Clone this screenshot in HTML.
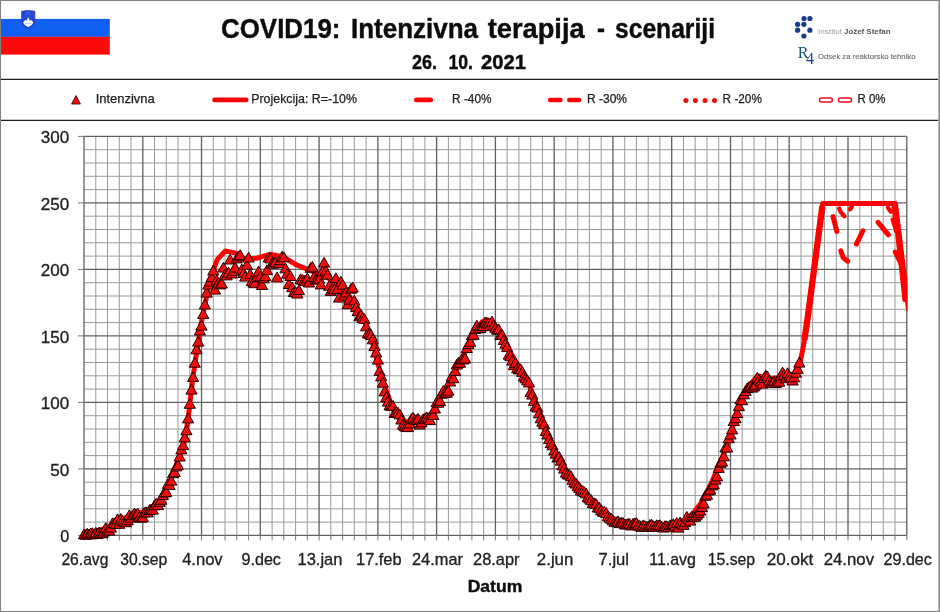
<!DOCTYPE html>
<html lang="sl"><head><meta charset="utf-8"><title>COVID19: Intenzivna terapija - scenariji</title>
<style>
html,body{margin:0;padding:0;background:#fff}
body{width:940px;height:612px;overflow:hidden;position:relative;font-family:"Liberation Sans",sans-serif}
svg{position:absolute;left:0;top:0;display:block}
text{font-family:"Liberation Sans",sans-serif}
</style></head><body>
<svg width="940" height="612" viewBox="0 0 940 612">
<defs><clipPath id="pc"><rect x="80" y="130" width="827.5" height="410"/></clipPath></defs>
<rect x="0" y="0" width="940" height="612" fill="#fff"/>
<!-- frame -->
<path d="M0.5 0V612M0 0.5H940M0 611.5H940" stroke="#808080" stroke-width="1" fill="none"/><path d="M939.2 0V612" stroke="#8a8a8a" stroke-width="1.6" fill="none"/>
<path d="M1 79.4H938M1 120.4H938" stroke="#1e1e1e" stroke-width="1.2" fill="none"/>
<!-- flag -->
<rect x="1" y="18.9" width="108.8" height="18" fill="#115ff0"/>
<rect x="1" y="36.8" width="108.8" height="17.8" fill="#ff0a0a"/>
<path d="M21.7 11.3Q28.2 9.9 34.8 11.3V21Q34.8 25.5 28.2 27.9Q21.7 25.5 21.7 21Z" fill="#2347d8" stroke="#2a33a6" stroke-width=".8"/>
<g fill="#6aa8ff"><circle cx="26.5" cy="13.9" r=".65"/><circle cx="29.9" cy="13.9" r=".65"/><circle cx="28.2" cy="12.2" r=".65"/></g>
<path d="M23.2 22.3L25.4 19.8L26.5 20.8L28.2 17.1L29.9 20.8L31 19.8L33.3 22.3Q32.4 25.3 28.2 26.9Q24 25.3 23.2 22.3Z" fill="#fff"/>
<path d="M25 23.6q.8-.6 1.6 0t1.6 0 1.6 0 1.6 0" stroke="#7fb0f5" stroke-width=".7" fill="none"/>
<!-- logos -->
<g fill="#163a8c"><circle cx="804" cy="18.5" r="2.6"/><circle cx="809.9" cy="18.5" r="2.6"/><circle cx="797.6" cy="24.3" r="2.6"/><circle cx="803.9" cy="24.3" r="2.6"/><circle cx="797.6" cy="30.2" r="2.6"/><circle cx="809.9" cy="30.2" r="2.6"/><circle cx="803.9" cy="36" r="2.6"/></g>
<text x="818" y="33.6" font-size="7" fill="#9c9c9c" textLength="24" lengthAdjust="spacingAndGlyphs">Institut</text>
<text x="844" y="33.6" font-size="7" font-weight="bold" fill="#555" textLength="46.5" lengthAdjust="spacingAndGlyphs">Jožef Stefan</text>
<text x="797.8" y="57.8" font-size="16.4" fill="#14506e" style="font-family:'Liberation Serif',serif" textLength="10.8" lengthAdjust="spacingAndGlyphs">R</text>
<text x="806" y="64.4" font-size="17" fill="#1f3fa8" style="font-family:'Liberation Serif',serif" textLength="8" lengthAdjust="spacingAndGlyphs">4</text>
<text x="818" y="58.6" font-size="7.7" fill="#707070" stroke="#707070" stroke-width="0.15" textLength="97.5" lengthAdjust="spacingAndGlyphs">Odsek za reaktorsko tehniko</text>
<!-- titles -->
<g font-weight="bold" fill="#0c0c0c" stroke="#0c0c0c" stroke-width="0.4">
<g font-size="26.9">
<text x="221" y="38.2" textLength="119.5" lengthAdjust="spacingAndGlyphs">COVID19:</text>
<text x="351" y="38.2" textLength="127" lengthAdjust="spacingAndGlyphs">Intenzivna</text>
<text x="487.7" y="38.2" textLength="97" lengthAdjust="spacingAndGlyphs">terapija</text>
<text x="597" y="38.2" textLength="8" lengthAdjust="spacingAndGlyphs">-</text>
<text x="615" y="38.2" textLength="100" lengthAdjust="spacingAndGlyphs">scenariji</text>
</g>
<g font-size="19.9">
<text x="411.9" y="69.1" textLength="25" lengthAdjust="spacingAndGlyphs">26.</text>
<text x="448.4" y="69.1" textLength="24.6" lengthAdjust="spacingAndGlyphs">10.</text>
<text x="481" y="69.1" textLength="45" lengthAdjust="spacingAndGlyphs">2021</text>
</g>
<text x="467.7" y="592.2" font-size="17.3" textLength="54.6" lengthAdjust="spacingAndGlyphs">Datum</text>
</g>
<!-- legend -->
<path d="M76 95.6l4.4 8.4h-8.8z" fill="#e60d0d" stroke="#4a0000" stroke-width="0.9"/>
<path d="M214.5 99.9H246.3" stroke="#f00" stroke-width="4.6" stroke-linecap="round"/>
<path d="M416.3 99.9H430.8" stroke="#f00" stroke-width="4.6" stroke-linecap="round"/>
<path d="M550.2 99.9H560.4M569.3 99.9H579.2" stroke="#f00" stroke-width="4.5" stroke-linecap="round"/>
<g fill="#f20a0a"><circle cx="685.9" cy="100.4" r="2.5"/><circle cx="695.4" cy="100.4" r="2.5"/><circle cx="705" cy="100.4" r="2.5"/><circle cx="714.5" cy="100.4" r="2.5"/></g>
<g fill="#fff" stroke="#e30f1c" stroke-width="1.5"><rect x="819.5" y="98.1" width="12.8" height="4" rx="2"/><rect x="838.5" y="98.1" width="13" height="4" rx="2"/></g>
<g font-size="12.35" fill="#1c1c1c" stroke="#1c1c1c" stroke-width="0.25">
<text x="95.7" y="103" textLength="59" lengthAdjust="spacingAndGlyphs">Intenzivna</text>
<text x="251.2" y="103" textLength="105.8" lengthAdjust="spacingAndGlyphs">Projekcija: R=-10%</text>
<text x="452.1" y="103" textLength="39.4" lengthAdjust="spacingAndGlyphs">R -40%</text>
<text x="587" y="103" textLength="40" lengthAdjust="spacingAndGlyphs">R -30%</text>
<text x="722.6" y="103" textLength="39.3" lengthAdjust="spacingAndGlyphs">R -20%</text>
<text x="857.5" y="103" textLength="28" lengthAdjust="spacingAndGlyphs">R 0%</text>
</g>
<!-- chart -->
<path d="M95.8 136.4V535.4M107.5 136.4V535.4M119.3 136.4V535.4M131 136.4V535.4M154.5 136.4V535.4M166.3 136.4V535.4M178 136.4V535.4M189.8 136.4V535.4M213.3 136.4V535.4M225 136.4V535.4M236.8 136.4V535.4M248.6 136.4V535.4M272.1 136.4V535.4M283.8 136.4V535.4M295.6 136.4V535.4M307.3 136.4V535.4M330.8 136.4V535.4M342.6 136.4V535.4M354.3 136.4V535.4M366.1 136.4V535.4M389.6 136.4V535.4M401.4 136.4V535.4M413.1 136.4V535.4M424.9 136.4V535.4M448.4 136.4V535.4M460.1 136.4V535.4M471.9 136.4V535.4M483.6 136.4V535.4M507.1 136.4V535.4M518.9 136.4V535.4M530.7 136.4V535.4M542.4 136.4V535.4M565.9 136.4V535.4M577.7 136.4V535.4M589.4 136.4V535.4M601.2 136.4V535.4M624.7 136.4V535.4M636.4 136.4V535.4M648.2 136.4V535.4M659.9 136.4V535.4M683.5 136.4V535.4M695.2 136.4V535.4M707 136.4V535.4M718.7 136.4V535.4M742.2 136.4V535.4M754 136.4V535.4M765.7 136.4V535.4M777.5 136.4V535.4M801 136.4V535.4M812.7 136.4V535.4M824.5 136.4V535.4M836.3 136.4V535.4M859.8 136.4V535.4M871.5 136.4V535.4M883.3 136.4V535.4M895 136.4V535.4M84 522.1H906.8M84 508.8H906.8M84 495.5H906.8M84 482.2H906.8M84 455.6H906.8M84 442.3H906.8M84 429H906.8M84 415.7H906.8M84 389.1H906.8M84 375.8H906.8M84 362.5H906.8M84 349.2H906.8M84 322.6H906.8M84 309.3H906.8M84 296H906.8M84 282.7H906.8M84 256.1H906.8M84 242.8H906.8M84 229.5H906.8M84 216.2H906.8M84 189.6H906.8M84 176.3H906.8M84 163H906.8M84 149.7H906.8" stroke="#999" stroke-width="1" fill="none"/>
<path d="M84 136.4V535.4M142.8 136.4V535.4M201.5 136.4V535.4M260.3 136.4V535.4M319.1 136.4V535.4M377.9 136.4V535.4M436.6 136.4V535.4M495.4 136.4V535.4M554.2 136.4V535.4M612.9 136.4V535.4M671.7 136.4V535.4M730.5 136.4V535.4M789.2 136.4V535.4M848 136.4V535.4M906.8 136.4V535.4M84 535.4H906.8M84 468.9H906.8M84 402.4H906.8M84 335.9H906.8M84 269.4H906.8M84 202.9H906.8M84 136.4H906.8" stroke="#606060" stroke-width="1.3" fill="none"/>
<path d="M95.8 535.4V540.4M107.5 535.4V540.4M119.3 535.4V540.4M131 535.4V540.4M154.5 535.4V540.4M166.3 535.4V540.4M178 535.4V540.4M189.8 535.4V540.4M213.3 535.4V540.4M225 535.4V540.4M236.8 535.4V540.4M248.6 535.4V540.4M272.1 535.4V540.4M283.8 535.4V540.4M295.6 535.4V540.4M307.3 535.4V540.4M330.8 535.4V540.4M342.6 535.4V540.4M354.3 535.4V540.4M366.1 535.4V540.4M389.6 535.4V540.4M401.4 535.4V540.4M413.1 535.4V540.4M424.9 535.4V540.4M448.4 535.4V540.4M460.1 535.4V540.4M471.9 535.4V540.4M483.6 535.4V540.4M507.1 535.4V540.4M518.9 535.4V540.4M530.7 535.4V540.4M542.4 535.4V540.4M565.9 535.4V540.4M577.7 535.4V540.4M589.4 535.4V540.4M601.2 535.4V540.4M624.7 535.4V540.4M636.4 535.4V540.4M648.2 535.4V540.4M659.9 535.4V540.4M683.5 535.4V540.4M695.2 535.4V540.4M707 535.4V540.4M718.7 535.4V540.4M742.2 535.4V540.4M754 535.4V540.4M765.7 535.4V540.4M777.5 535.4V540.4M801 535.4V540.4M812.7 535.4V540.4M824.5 535.4V540.4M836.3 535.4V540.4M859.8 535.4V540.4M871.5 535.4V540.4M883.3 535.4V540.4M895 535.4V540.4M84 535.4V540.4M142.8 535.4V540.4M201.5 535.4V540.4M260.3 535.4V540.4M319.1 535.4V540.4M377.9 535.4V540.4M436.6 535.4V540.4M495.4 535.4V540.4M554.2 535.4V540.4M612.9 535.4V540.4M671.7 535.4V540.4M730.5 535.4V540.4M789.2 535.4V540.4M848 535.4V540.4M906.8 535.4V540.4M78 535.4H84M78 468.9H84M78 402.4H84M78 335.9H84M78 269.4H84M78 202.9H84M78 136.4H84" stroke="#7a7a7a" stroke-width="1" fill="none"/>
<path d="M84 533.6 L97 531 L110.4 527 L120 521 L128 516 L136 513.5 L142.8 512 L150 509 L156.3 505.3 L164.3 496 L171 479.7 L177.8 460.9 L184.5 442 L188 420 L190.5 398 L193 377 L195.6 359.4 L201 324.3 L206.4 297.4 L210.4 278.5 L217.2 259.6 L225.3 251 L234.7 252.9 L245.5 259.1 L256.3 258.3 L269.7 254.3 L283.2 257 L296.7 265 L310.2 270.4 L321 274.5 L334.4 281.2 L345.2 290.6 L356 305.5 L364.7 321 L372.8 343.5 L380.2 372 L387.6 394.7 L395 414 L403.1 422 L413.9 420.7 L424.7 422 L432.8 414 L440.9 397.8 L451.6 379 L459.7 362.8 L467.8 346.6 L475.9 330.4 L482 322 L486.7 319.6 L491 321 L494.8 325 L505.6 343.9 L516.3 362.8 L527.1 379 L535.3 400.8 L543.4 426.4 L554.3 450 L565 471.3 L578.5 484.7 L589.3 498.2 L600.1 509 L613.6 519.8 L632.4 523.8 L651.3 525.2 L670.2 525.2 L683.6 522.5 L694.4 511.7 L702.5 500.9 L710.6 484.7 L718.7 465.9 L725.4 449.7 L732.2 428.1 L738.9 406.6 L749.4 385.4 L757.6 375.6 L770 379 L785 376.4 L793.6 374 L800.1 362.5 L803.6 345 L807.4 319 L822.7 203.5 L895.4 203.5 L908.4 309" stroke="#ff0000" stroke-width="5" fill="none" stroke-linejoin="round" stroke-linecap="round" clip-path="url(#pc)"/>
<path d="M833 216.6L836.9 231.5M840.8 250.9L843.3 257.8L847.7 261.2M856.4 244.1L862.8 230.8M878.1 222.3L888.4 234.9M895.3 252.1L902.1 265.8" stroke="#f00" stroke-width="5" fill="none" stroke-linecap="round" stroke-linejoin="round" clip-path="url(#pc)"/>
<path d="M839.2 208.6L840.8 212M842.2 213.9L844.5 216.2M850 209.3L851.8 207M887.9 207.5L890.7 211.6M892.7 219.5L896.5 231.5" stroke="#f00" stroke-width="4.4" fill="none" stroke-linecap="round" clip-path="url(#pc)"/>
<path d="M893.5 207L897 232L900 258L904.5 300" stroke="#f00" stroke-width="4.2" fill="none" stroke-linecap="round" stroke-linejoin="round" clip-path="url(#pc)"/>
<path d="M804.4 340L807.6 318.5L822.4 206" stroke="#f00" stroke-width="6.3" fill="none" stroke-linejoin="round"/>
<g fill="#f20d0d" stroke="#2a0000" stroke-width="1" stroke-linejoin="miter"><path d="M84 529.1l5.6 9.8h-11.2z"/><path d="M85.7 529.4l5.6 9.8h-11.2z"/><path d="M87.4 528.2l5.6 9.8h-11.2z"/><path d="M89 529.1l5.6 9.8h-11.2z"/><path d="M90.7 528l5.6 9.8h-11.2z"/><path d="M92.4 527.8l5.6 9.8h-11.2z"/><path d="M94.1 528.8l5.6 9.8h-11.2z"/><path d="M95.8 527.4l5.6 9.8h-11.2z"/><path d="M97.4 528.6l5.6 9.8h-11.2z"/><path d="M99.1 527.1l5.6 9.8h-11.2z"/><path d="M100.8 527.9l5.6 9.8h-11.2z"/><path d="M102.5 527.8l5.6 9.8h-11.2z"/><path d="M104.1 526.2l5.6 9.8h-11.2z"/><path d="M105.8 522.6l5.6 9.8h-11.2z"/><path d="M107.5 524.9l5.6 9.8h-11.2z"/><path d="M109.2 525.2l5.6 9.8h-11.2z"/><path d="M110.9 522.3l5.6 9.8h-11.2z"/><path d="M112.5 517.9l5.6 9.8h-11.2z"/><path d="M114.2 517.8l5.6 9.8h-11.2z"/><path d="M115.9 518.6l5.6 9.8h-11.2z"/><path d="M117.6 513.9l5.6 9.8h-11.2z"/><path d="M119.3 518.5l5.6 9.8h-11.2z"/><path d="M120.9 513.6l5.6 9.8h-11.2z"/><path d="M122.6 515.3l5.6 9.8h-11.2z"/><path d="M124.3 516.7l5.6 9.8h-11.2z"/><path d="M126 516.9l5.6 9.8h-11.2z"/><path d="M127.7 514.9l5.6 9.8h-11.2z"/><path d="M129.3 509.9l5.6 9.8h-11.2z"/><path d="M131 512.4l5.6 9.8h-11.2z"/><path d="M132.7 510l5.6 9.8h-11.2z"/><path d="M134.4 508.2l5.6 9.8h-11.2z"/><path d="M136.1 509.3l5.6 9.8h-11.2z"/><path d="M137.7 508.2l5.6 9.8h-11.2z"/><path d="M139.4 511.4l5.6 9.8h-11.2z"/><path d="M141.1 512.5l5.6 9.8h-11.2z"/><path d="M142.8 511.8l5.6 9.8h-11.2z"/><path d="M144.4 507.2l5.6 9.8h-11.2z"/><path d="M146.1 506.7l5.6 9.8h-11.2z"/><path d="M147.8 507l5.6 9.8h-11.2z"/><path d="M149.5 504.6l5.6 9.8h-11.2z"/><path d="M151.2 504l5.6 9.8h-11.2z"/><path d="M152.8 504.3l5.6 9.8h-11.2z"/><path d="M154.5 500l5.6 9.8h-11.2z"/><path d="M156.2 498.3l5.6 9.8h-11.2z"/><path d="M157.9 499.7l5.6 9.8h-11.2z"/><path d="M159.6 496.6l5.6 9.8h-11.2z"/><path d="M161.2 494.5l5.6 9.8h-11.2z"/><path d="M162.9 489.7l5.6 9.8h-11.2z"/><path d="M164.6 487.2l5.6 9.8h-11.2z"/><path d="M166.3 486.6l5.6 9.8h-11.2z"/><path d="M168 478.6l5.6 9.8h-11.2z"/><path d="M169.6 479.6l5.6 9.8h-11.2z"/><path d="M171.3 475.3l5.6 9.8h-11.2z"/><path d="M173 467.9l5.6 9.8h-11.2z"/><path d="M174.7 466.8l5.6 9.8h-11.2z"/><path d="M176.4 461.1l5.6 9.8h-11.2z"/><path d="M178 459.6l5.6 9.8h-11.2z"/><path d="M179.7 451.2l5.6 9.8h-11.2z"/><path d="M181.4 444.1l5.6 9.8h-11.2z"/><path d="M183.1 439.8l5.6 9.8h-11.2z"/><path d="M184.7 432l5.6 9.8h-11.2z"/><path d="M186.4 424.9l5.6 9.8h-11.2z"/><path d="M188.1 413.1l5.6 9.8h-11.2z"/><path d="M189.8 398.5l5.6 9.8h-11.2z"/><path d="M191.5 384.3l5.6 9.8h-11.2z"/><path d="M193.1 371.6l5.6 9.8h-11.2z"/><path d="M194.8 357.4l5.6 9.8h-11.2z"/><path d="M196.5 344l5.6 9.8h-11.2z"/><path d="M198.2 336.3l5.6 9.8h-11.2z"/><path d="M199.9 325.1l5.6 9.8h-11.2z"/><path d="M201.5 320.3l5.6 9.8h-11.2z"/><path d="M203.2 308.6l5.6 9.8h-11.2z"/><path d="M204.9 299.2l5.6 9.8h-11.2z"/><path d="M206.6 287.3l5.6 9.8h-11.2z"/><path d="M208.3 279.3l5.6 9.8h-11.2z"/><path d="M209.9 276.2l5.6 9.8h-11.2z"/><path d="M211.6 271.8l5.6 9.8h-11.2z"/><path d="M213.3 265.2l5.6 9.8h-11.2z"/><path d="M215 284.3l5.6 9.8h-11.2z"/><path d="M216.7 274.9l5.6 9.8h-11.2z"/><path d="M218.3 277.3l5.6 9.8h-11.2z"/><path d="M220 279.1l5.6 9.8h-11.2z"/><path d="M221.7 278.2l5.6 9.8h-11.2z"/><path d="M223.4 262.3l5.6 9.8h-11.2z"/><path d="M225 269.1l5.6 9.8h-11.2z"/><path d="M226.7 270.1l5.6 9.8h-11.2z"/><path d="M228.4 267.2l5.6 9.8h-11.2z"/><path d="M230.1 254.2l5.6 9.8h-11.2z"/><path d="M231.8 268.2l5.6 9.8h-11.2z"/><path d="M233.4 265.5l5.6 9.8h-11.2z"/><path d="M235.1 262.2l5.6 9.8h-11.2z"/><path d="M236.8 253.1l5.6 9.8h-11.2z"/><path d="M238.5 251.1l5.6 9.8h-11.2z"/><path d="M240.2 249.7l5.6 9.8h-11.2z"/><path d="M241.8 264.1l5.6 9.8h-11.2z"/><path d="M243.5 267.7l5.6 9.8h-11.2z"/><path d="M245.2 271.3l5.6 9.8h-11.2z"/><path d="M246.9 259.5l5.6 9.8h-11.2z"/><path d="M248.6 252.2l5.6 9.8h-11.2z"/><path d="M250.2 268.9l5.6 9.8h-11.2z"/><path d="M251.9 275.7l5.6 9.8h-11.2z"/><path d="M253.6 277.3l5.6 9.8h-11.2z"/><path d="M255.3 277.9l5.6 9.8h-11.2z"/><path d="M257 271.7l5.6 9.8h-11.2z"/><path d="M258.6 266l5.6 9.8h-11.2z"/><path d="M260.3 271.2l5.6 9.8h-11.2z"/><path d="M262 279.7l5.6 9.8h-11.2z"/><path d="M263.7 273l5.6 9.8h-11.2z"/><path d="M265.3 270.9l5.6 9.8h-11.2z"/><path d="M267 264.8l5.6 9.8h-11.2z"/><path d="M268.7 252.1l5.6 9.8h-11.2z"/><path d="M270.4 253.1l5.6 9.8h-11.2z"/><path d="M272.1 258.2l5.6 9.8h-11.2z"/><path d="M273.7 258.2l5.6 9.8h-11.2z"/><path d="M275.4 256.9l5.6 9.8h-11.2z"/><path d="M277.1 272l5.6 9.8h-11.2z"/><path d="M278.8 257.9l5.6 9.8h-11.2z"/><path d="M280.5 254.8l5.6 9.8h-11.2z"/><path d="M282.1 251.2l5.6 9.8h-11.2z"/><path d="M283.8 251.9l5.6 9.8h-11.2z"/><path d="M285.5 263l5.6 9.8h-11.2z"/><path d="M287.2 268.4l5.6 9.8h-11.2z"/><path d="M288.9 278.7l5.6 9.8h-11.2z"/><path d="M290.5 270.7l5.6 9.8h-11.2z"/><path d="M292.2 281.9l5.6 9.8h-11.2z"/><path d="M293.9 286.7l5.6 9.8h-11.2z"/><path d="M295.6 286.8l5.6 9.8h-11.2z"/><path d="M297.3 288.2l5.6 9.8h-11.2z"/><path d="M298.9 284.7l5.6 9.8h-11.2z"/><path d="M300.6 273.8l5.6 9.8h-11.2z"/><path d="M302.3 274.5l5.6 9.8h-11.2z"/><path d="M304 275.1l5.6 9.8h-11.2z"/><path d="M305.6 275.8l5.6 9.8h-11.2z"/><path d="M307.3 273l5.6 9.8h-11.2z"/><path d="M309 277.2l5.6 9.8h-11.2z"/><path d="M310.7 262.5l5.6 9.8h-11.2z"/><path d="M312.4 261.5l5.6 9.8h-11.2z"/><path d="M314 271.7l5.6 9.8h-11.2z"/><path d="M315.7 274.4l5.6 9.8h-11.2z"/><path d="M317.4 273.8l5.6 9.8h-11.2z"/><path d="M319.1 273.5l5.6 9.8h-11.2z"/><path d="M320.8 279.1l5.6 9.8h-11.2z"/><path d="M322.4 266l5.6 9.8h-11.2z"/><path d="M324.1 257.3l5.6 9.8h-11.2z"/><path d="M325.8 265.6l5.6 9.8h-11.2z"/><path d="M327.5 269.4l5.6 9.8h-11.2z"/><path d="M329.2 280.5l5.6 9.8h-11.2z"/><path d="M330.8 285.6l5.6 9.8h-11.2z"/><path d="M332.5 283l5.6 9.8h-11.2z"/><path d="M334.2 284l5.6 9.8h-11.2z"/><path d="M335.9 272.8l5.6 9.8h-11.2z"/><path d="M337.6 283.6l5.6 9.8h-11.2z"/><path d="M339.2 292.3l5.6 9.8h-11.2z"/><path d="M340.9 276.3l5.6 9.8h-11.2z"/><path d="M342.6 279.3l5.6 9.8h-11.2z"/><path d="M344.3 290.1l5.6 9.8h-11.2z"/><path d="M345.9 287.2l5.6 9.8h-11.2z"/><path d="M347.6 298.9l5.6 9.8h-11.2z"/><path d="M349.3 294.3l5.6 9.8h-11.2z"/><path d="M351 283.4l5.6 9.8h-11.2z"/><path d="M352.7 282.3l5.6 9.8h-11.2z"/><path d="M354.3 295.2l5.6 9.8h-11.2z"/><path d="M356 301.8l5.6 9.8h-11.2z"/><path d="M357.7 305.8l5.6 9.8h-11.2z"/><path d="M359.4 311l5.6 9.8h-11.2z"/><path d="M361.1 309.6l5.6 9.8h-11.2z"/><path d="M362.7 312.7l5.6 9.8h-11.2z"/><path d="M364.4 313.6l5.6 9.8h-11.2z"/><path d="M366.1 321l5.6 9.8h-11.2z"/><path d="M367.8 328l5.6 9.8h-11.2z"/><path d="M369.5 328.5l5.6 9.8h-11.2z"/><path d="M371.1 329.7l5.6 9.8h-11.2z"/><path d="M372.8 334l5.6 9.8h-11.2z"/><path d="M374.5 340.7l5.6 9.8h-11.2z"/><path d="M376.2 347.2l5.6 9.8h-11.2z"/><path d="M377.9 354.3l5.6 9.8h-11.2z"/><path d="M379.5 365.7l5.6 9.8h-11.2z"/><path d="M381.2 371l5.6 9.8h-11.2z"/><path d="M382.9 377.4l5.6 9.8h-11.2z"/><path d="M384.6 386.1l5.6 9.8h-11.2z"/><path d="M386.2 391.9l5.6 9.8h-11.2z"/><path d="M387.9 396.3l5.6 9.8h-11.2z"/><path d="M389.6 400.1l5.6 9.8h-11.2z"/><path d="M391.3 400.4l5.6 9.8h-11.2z"/><path d="M393 400.6l5.6 9.8h-11.2z"/><path d="M394.6 407.6l5.6 9.8h-11.2z"/><path d="M396.3 406.7l5.6 9.8h-11.2z"/><path d="M398 407.3l5.6 9.8h-11.2z"/><path d="M399.7 409l5.6 9.8h-11.2z"/><path d="M401.4 414.2l5.6 9.8h-11.2z"/><path d="M403 419.4l5.6 9.8h-11.2z"/><path d="M404.7 420.9l5.6 9.8h-11.2z"/><path d="M406.4 421.6l5.6 9.8h-11.2z"/><path d="M408.1 421.8l5.6 9.8h-11.2z"/><path d="M409.8 418l5.6 9.8h-11.2z"/><path d="M411.4 413.7l5.6 9.8h-11.2z"/><path d="M413.1 412.2l5.6 9.8h-11.2z"/><path d="M414.8 414.8l5.6 9.8h-11.2z"/><path d="M416.5 414.7l5.6 9.8h-11.2z"/><path d="M418.1 413.4l5.6 9.8h-11.2z"/><path d="M419.8 419.3l5.6 9.8h-11.2z"/><path d="M421.5 417l5.6 9.8h-11.2z"/><path d="M423.2 413.8l5.6 9.8h-11.2z"/><path d="M424.9 413.4l5.6 9.8h-11.2z"/><path d="M426.5 411.9l5.6 9.8h-11.2z"/><path d="M428.2 412.7l5.6 9.8h-11.2z"/><path d="M429.9 414.8l5.6 9.8h-11.2z"/><path d="M431.6 409.4l5.6 9.8h-11.2z"/><path d="M433.3 409.7l5.6 9.8h-11.2z"/><path d="M434.9 403.2l5.6 9.8h-11.2z"/><path d="M436.6 396.9l5.6 9.8h-11.2z"/><path d="M438.3 397.4l5.6 9.8h-11.2z"/><path d="M440 395.7l5.6 9.8h-11.2z"/><path d="M441.7 388.4l5.6 9.8h-11.2z"/><path d="M443.3 385.6l5.6 9.8h-11.2z"/><path d="M445 387.7l5.6 9.8h-11.2z"/><path d="M446.7 387.4l5.6 9.8h-11.2z"/><path d="M448.4 385.4l5.6 9.8h-11.2z"/><path d="M450.1 376.2l5.6 9.8h-11.2z"/><path d="M451.7 371.2l5.6 9.8h-11.2z"/><path d="M453.4 372.9l5.6 9.8h-11.2z"/><path d="M455.1 365.7l5.6 9.8h-11.2z"/><path d="M456.8 359.2l5.6 9.8h-11.2z"/><path d="M458.4 357.4l5.6 9.8h-11.2z"/><path d="M460.1 357.4l5.6 9.8h-11.2z"/><path d="M461.8 353.9l5.6 9.8h-11.2z"/><path d="M463.5 354.1l5.6 9.8h-11.2z"/><path d="M465.2 353.2l5.6 9.8h-11.2z"/><path d="M466.8 342.7l5.6 9.8h-11.2z"/><path d="M468.5 338.9l5.6 9.8h-11.2z"/><path d="M470.2 336.5l5.6 9.8h-11.2z"/><path d="M471.9 329.9l5.6 9.8h-11.2z"/><path d="M473.6 329.5l5.6 9.8h-11.2z"/><path d="M475.2 323.6l5.6 9.8h-11.2z"/><path d="M476.9 320.2l5.6 9.8h-11.2z"/><path d="M478.6 323l5.6 9.8h-11.2z"/><path d="M480.3 322.7l5.6 9.8h-11.2z"/><path d="M482 320.9l5.6 9.8h-11.2z"/><path d="M483.6 320.7l5.6 9.8h-11.2z"/><path d="M485.3 317l5.6 9.8h-11.2z"/><path d="M487 318.1l5.6 9.8h-11.2z"/><path d="M488.7 318l5.6 9.8h-11.2z"/><path d="M490.4 320.8l5.6 9.8h-11.2z"/><path d="M492 316.1l5.6 9.8h-11.2z"/><path d="M493.7 320.2l5.6 9.8h-11.2z"/><path d="M495.4 322.5l5.6 9.8h-11.2z"/><path d="M497.1 324.4l5.6 9.8h-11.2z"/><path d="M498.7 323.9l5.6 9.8h-11.2z"/><path d="M500.4 329.7l5.6 9.8h-11.2z"/><path d="M502.1 329.5l5.6 9.8h-11.2z"/><path d="M503.8 334.7l5.6 9.8h-11.2z"/><path d="M505.5 338.4l5.6 9.8h-11.2z"/><path d="M507.1 341.8l5.6 9.8h-11.2z"/><path d="M508.8 349.4l5.6 9.8h-11.2z"/><path d="M510.5 350.8l5.6 9.8h-11.2z"/><path d="M512.2 355.3l5.6 9.8h-11.2z"/><path d="M513.9 359.9l5.6 9.8h-11.2z"/><path d="M515.5 357.4l5.6 9.8h-11.2z"/><path d="M517.2 363l5.6 9.8h-11.2z"/><path d="M518.9 364.1l5.6 9.8h-11.2z"/><path d="M520.6 363.8l5.6 9.8h-11.2z"/><path d="M522.3 366.5l5.6 9.8h-11.2z"/><path d="M523.9 371.2l5.6 9.8h-11.2z"/><path d="M525.6 373l5.6 9.8h-11.2z"/><path d="M527.3 375l5.6 9.8h-11.2z"/><path d="M529 377.1l5.6 9.8h-11.2z"/><path d="M530.7 386.6l5.6 9.8h-11.2z"/><path d="M532.3 389.3l5.6 9.8h-11.2z"/><path d="M534 395.7l5.6 9.8h-11.2z"/><path d="M535.7 401l5.6 9.8h-11.2z"/><path d="M537.4 402.2l5.6 9.8h-11.2z"/><path d="M539 408l5.6 9.8h-11.2z"/><path d="M540.7 413l5.6 9.8h-11.2z"/><path d="M542.4 416.4l5.6 9.8h-11.2z"/><path d="M544.1 418.8l5.6 9.8h-11.2z"/><path d="M545.8 425.7l5.6 9.8h-11.2z"/><path d="M547.4 429.2l5.6 9.8h-11.2z"/><path d="M549.1 433.8l5.6 9.8h-11.2z"/><path d="M550.8 437.8l5.6 9.8h-11.2z"/><path d="M552.5 440l5.6 9.8h-11.2z"/><path d="M554.2 445.1l5.6 9.8h-11.2z"/><path d="M555.8 448.4l5.6 9.8h-11.2z"/><path d="M557.5 452.2l5.6 9.8h-11.2z"/><path d="M559.2 451.6l5.6 9.8h-11.2z"/><path d="M560.9 455.4l5.6 9.8h-11.2z"/><path d="M562.6 460.1l5.6 9.8h-11.2z"/><path d="M564.2 463.3l5.6 9.8h-11.2z"/><path d="M565.9 467.3l5.6 9.8h-11.2z"/><path d="M567.6 468.9l5.6 9.8h-11.2z"/><path d="M569.3 469.4l5.6 9.8h-11.2z"/><path d="M571 470.9l5.6 9.8h-11.2z"/><path d="M572.6 474.5l5.6 9.8h-11.2z"/><path d="M574.3 477.2l5.6 9.8h-11.2z"/><path d="M576 478.3l5.6 9.8h-11.2z"/><path d="M577.7 480.8l5.6 9.8h-11.2z"/><path d="M579.3 482.6l5.6 9.8h-11.2z"/><path d="M581 485l5.6 9.8h-11.2z"/><path d="M582.7 485.7l5.6 9.8h-11.2z"/><path d="M584.4 486.7l5.6 9.8h-11.2z"/><path d="M586.1 488l5.6 9.8h-11.2z"/><path d="M587.7 491.9l5.6 9.8h-11.2z"/><path d="M589.4 493.2l5.6 9.8h-11.2z"/><path d="M591.1 494.6l5.6 9.8h-11.2z"/><path d="M592.8 497.8l5.6 9.8h-11.2z"/><path d="M594.5 497.9l5.6 9.8h-11.2z"/><path d="M596.1 498.6l5.6 9.8h-11.2z"/><path d="M597.8 502.1l5.6 9.8h-11.2z"/><path d="M599.5 502.4l5.6 9.8h-11.2z"/><path d="M601.2 504.9l5.6 9.8h-11.2z"/><path d="M602.9 506.4l5.6 9.8h-11.2z"/><path d="M604.5 506.4l5.6 9.8h-11.2z"/><path d="M606.2 507.6l5.6 9.8h-11.2z"/><path d="M607.9 510.8l5.6 9.8h-11.2z"/><path d="M609.6 512.2l5.6 9.8h-11.2z"/><path d="M611.3 513.4l5.6 9.8h-11.2z"/><path d="M612.9 515.1l5.6 9.8h-11.2z"/><path d="M614.6 516.5l5.6 9.8h-11.2z"/><path d="M616.3 516.8l5.6 9.8h-11.2z"/><path d="M618 515.9l5.6 9.8h-11.2z"/><path d="M619.6 517.8l5.6 9.8h-11.2z"/><path d="M621.3 517.2l5.6 9.8h-11.2z"/><path d="M623 517.5l5.6 9.8h-11.2z"/><path d="M624.7 519.1l5.6 9.8h-11.2z"/><path d="M626.4 519.1l5.6 9.8h-11.2z"/><path d="M628 518.4l5.6 9.8h-11.2z"/><path d="M629.7 518.6l5.6 9.8h-11.2z"/><path d="M631.4 520.2l5.6 9.8h-11.2z"/><path d="M633.1 518.3l5.6 9.8h-11.2z"/><path d="M634.8 518.1l5.6 9.8h-11.2z"/><path d="M636.4 517.6l5.6 9.8h-11.2z"/><path d="M638.1 519.8l5.6 9.8h-11.2z"/><path d="M639.8 520.5l5.6 9.8h-11.2z"/><path d="M641.5 521.6l5.6 9.8h-11.2z"/><path d="M643.2 519.9l5.6 9.8h-11.2z"/><path d="M644.8 520.7l5.6 9.8h-11.2z"/><path d="M646.5 521.6l5.6 9.8h-11.2z"/><path d="M648.2 521.2l5.6 9.8h-11.2z"/><path d="M649.9 519.6l5.6 9.8h-11.2z"/><path d="M651.6 519.2l5.6 9.8h-11.2z"/><path d="M653.2 520.7l5.6 9.8h-11.2z"/><path d="M654.9 521.6l5.6 9.8h-11.2z"/><path d="M656.6 519.8l5.6 9.8h-11.2z"/><path d="M658.3 520l5.6 9.8h-11.2z"/><path d="M659.9 519.7l5.6 9.8h-11.2z"/><path d="M661.6 521.4l5.6 9.8h-11.2z"/><path d="M663.3 522.2l5.6 9.8h-11.2z"/><path d="M665 520.7l5.6 9.8h-11.2z"/><path d="M666.7 520.8l5.6 9.8h-11.2z"/><path d="M668.3 521.9l5.6 9.8h-11.2z"/><path d="M670 519.9l5.6 9.8h-11.2z"/><path d="M671.7 519.5l5.6 9.8h-11.2z"/><path d="M673.4 518.7l5.6 9.8h-11.2z"/><path d="M675.1 520.2l5.6 9.8h-11.2z"/><path d="M676.7 517.5l5.6 9.8h-11.2z"/><path d="M678.4 522.3l5.6 9.8h-11.2z"/><path d="M680.1 517.1l5.6 9.8h-11.2z"/><path d="M681.8 518.3l5.6 9.8h-11.2z"/><path d="M683.5 519.6l5.6 9.8h-11.2z"/><path d="M685.1 516.9l5.6 9.8h-11.2z"/><path d="M686.8 511.4l5.6 9.8h-11.2z"/><path d="M688.5 513.8l5.6 9.8h-11.2z"/><path d="M690.2 515.3l5.6 9.8h-11.2z"/><path d="M691.8 511.4l5.6 9.8h-11.2z"/><path d="M693.5 511.4l5.6 9.8h-11.2z"/><path d="M695.2 511.3l5.6 9.8h-11.2z"/><path d="M696.9 509.4l5.6 9.8h-11.2z"/><path d="M698.6 507.5l5.6 9.8h-11.2z"/><path d="M700.2 505.3l5.6 9.8h-11.2z"/><path d="M701.9 501.7l5.6 9.8h-11.2z"/><path d="M703.6 498.2l5.6 9.8h-11.2z"/><path d="M705.3 490.5l5.6 9.8h-11.2z"/><path d="M707 489.4l5.6 9.8h-11.2z"/><path d="M708.6 485.2l5.6 9.8h-11.2z"/><path d="M710.3 484.3l5.6 9.8h-11.2z"/><path d="M712 480.1l5.6 9.8h-11.2z"/><path d="M713.7 478.9l5.6 9.8h-11.2z"/><path d="M715.4 474.3l5.6 9.8h-11.2z"/><path d="M717 471.1l5.6 9.8h-11.2z"/><path d="M718.7 462.6l5.6 9.8h-11.2z"/><path d="M720.4 457.6l5.6 9.8h-11.2z"/><path d="M722.1 456.3l5.6 9.8h-11.2z"/><path d="M723.8 451l5.6 9.8h-11.2z"/><path d="M725.4 442.2l5.6 9.8h-11.2z"/><path d="M727.1 442.2l5.6 9.8h-11.2z"/><path d="M728.8 432.9l5.6 9.8h-11.2z"/><path d="M730.5 429.2l5.6 9.8h-11.2z"/><path d="M732.1 424.1l5.6 9.8h-11.2z"/><path d="M733.8 415.7l5.6 9.8h-11.2z"/><path d="M735.5 412.9l5.6 9.8h-11.2z"/><path d="M737.2 407.7l5.6 9.8h-11.2z"/><path d="M738.9 400.8l5.6 9.8h-11.2z"/><path d="M740.5 394l5.6 9.8h-11.2z"/><path d="M742.2 394.9l5.6 9.8h-11.2z"/><path d="M743.9 389l5.6 9.8h-11.2z"/><path d="M745.6 385.6l5.6 9.8h-11.2z"/><path d="M747.3 382.8l5.6 9.8h-11.2z"/><path d="M748.9 381.8l5.6 9.8h-11.2z"/><path d="M750.6 381l5.6 9.8h-11.2z"/><path d="M752.3 382.3l5.6 9.8h-11.2z"/><path d="M754 381.1l5.6 9.8h-11.2z"/><path d="M755.7 379.3l5.6 9.8h-11.2z"/><path d="M757.3 372.4l5.6 9.8h-11.2z"/><path d="M759 374.3l5.6 9.8h-11.2z"/><path d="M760.7 376.4l5.6 9.8h-11.2z"/><path d="M762.4 378.3l5.6 9.8h-11.2z"/><path d="M764.1 372.7l5.6 9.8h-11.2z"/><path d="M765.7 370.1l5.6 9.8h-11.2z"/><path d="M767.4 371l5.6 9.8h-11.2z"/><path d="M769.1 375.2l5.6 9.8h-11.2z"/><path d="M770.8 377.3l5.6 9.8h-11.2z"/><path d="M772.4 377.4l5.6 9.8h-11.2z"/><path d="M774.1 375.9l5.6 9.8h-11.2z"/><path d="M775.8 377.7l5.6 9.8h-11.2z"/><path d="M777.5 375.8l5.6 9.8h-11.2z"/><path d="M779.2 376.4l5.6 9.8h-11.2z"/><path d="M780.8 370.3l5.6 9.8h-11.2z"/><path d="M782.5 367.2l5.6 9.8h-11.2z"/><path d="M784.2 369.5l5.6 9.8h-11.2z"/><path d="M785.9 373l5.6 9.8h-11.2z"/><path d="M787.6 367.8l5.6 9.8h-11.2z"/><path d="M789.2 371.1l5.6 9.8h-11.2z"/><path d="M790.9 371.9l5.6 9.8h-11.2z"/><path d="M792.6 375.2l5.6 9.8h-11.2z"/><path d="M794.3 372l5.6 9.8h-11.2z"/><path d="M796 367.4l5.6 9.8h-11.2z"/><path d="M797.6 363.5l5.6 9.8h-11.2z"/><path d="M799.3 357.3l5.6 9.8h-11.2z"/></g>
<g font-size="16.1" fill="#202020" stroke="#202020" stroke-width="0.3"><text x="84.9" y="564.8" text-anchor="middle" textLength="47" lengthAdjust="spacingAndGlyphs">26.avg</text>
<text x="143.7" y="564.8" text-anchor="middle" textLength="47" lengthAdjust="spacingAndGlyphs">30.sep</text>
<text x="202.4" y="564.8" text-anchor="middle" textLength="40.5" lengthAdjust="spacingAndGlyphs">4.nov</text>
<text x="261.2" y="564.8" text-anchor="middle" textLength="39.5" lengthAdjust="spacingAndGlyphs">9.dec</text>
<text x="320" y="564.8" text-anchor="middle" textLength="45" lengthAdjust="spacingAndGlyphs">13.jan</text>
<text x="378.8" y="564.8" text-anchor="middle" textLength="45.5" lengthAdjust="spacingAndGlyphs">17.feb</text>
<text x="437.5" y="564.8" text-anchor="middle" textLength="51" lengthAdjust="spacingAndGlyphs">24.mar</text>
<text x="496.3" y="564.8" text-anchor="middle" textLength="46.5" lengthAdjust="spacingAndGlyphs">28.apr</text>
<text x="555.1" y="564.8" text-anchor="middle" textLength="36.5" lengthAdjust="spacingAndGlyphs">2.jun</text>
<text x="613.8" y="564.8" text-anchor="middle" textLength="30.5" lengthAdjust="spacingAndGlyphs">7.jul</text>
<text x="672.6" y="564.8" text-anchor="middle" textLength="46.5" lengthAdjust="spacingAndGlyphs">11.avg</text>
<text x="731.4" y="564.8" text-anchor="middle" textLength="47.5" lengthAdjust="spacingAndGlyphs">15.sep</text>
<text x="790.1" y="564.8" text-anchor="middle" textLength="46.5" lengthAdjust="spacingAndGlyphs">20.okt</text>
<text x="848.9" y="564.8" text-anchor="middle" textLength="50.5" lengthAdjust="spacingAndGlyphs">24.nov</text>
<text x="907.7" y="564.8" text-anchor="middle" textLength="48.5" lengthAdjust="spacingAndGlyphs">29.dec</text>
<text x="69.2" y="542.4" text-anchor="end" textLength="9" lengthAdjust="spacingAndGlyphs">0</text>
<text x="69.2" y="475.9" text-anchor="end" textLength="19" lengthAdjust="spacingAndGlyphs">50</text>
<text x="69.2" y="409.4" text-anchor="end" textLength="28.4" lengthAdjust="spacingAndGlyphs">100</text>
<text x="69.2" y="342.9" text-anchor="end" textLength="28.4" lengthAdjust="spacingAndGlyphs">150</text>
<text x="69.2" y="276.4" text-anchor="end" textLength="28.4" lengthAdjust="spacingAndGlyphs">200</text>
<text x="69.2" y="209.9" text-anchor="end" textLength="28.4" lengthAdjust="spacingAndGlyphs">250</text>
<text x="69.2" y="143.4" text-anchor="end" textLength="28.4" lengthAdjust="spacingAndGlyphs">300</text></g>
</svg>
</body></html>
